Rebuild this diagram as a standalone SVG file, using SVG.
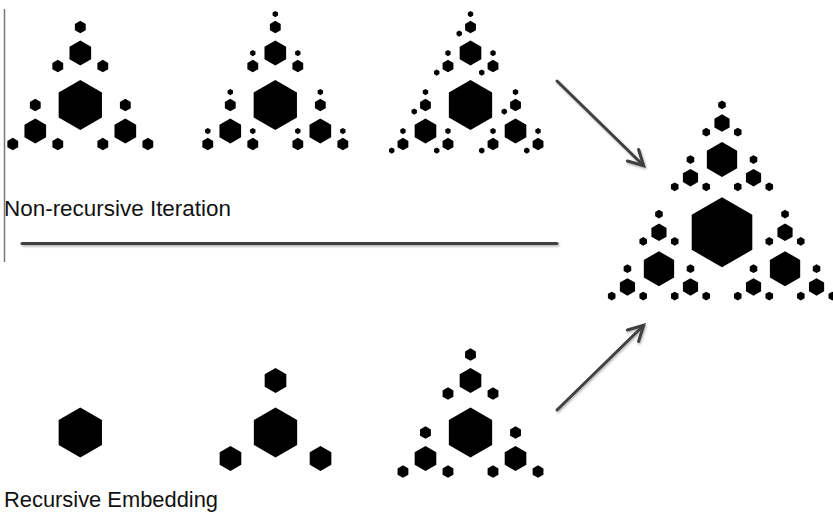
<svg xmlns="http://www.w3.org/2000/svg" width="833" height="515" viewBox="0 0 833 515">
  <style>
    .lbl{font-family:"Liberation Sans",Arial,sans-serif;font-size:22px;fill:#111}
    .ln{stroke:#404040;stroke-width:3;fill:none;stroke-linecap:round}
    .rule{stroke:#777;stroke-width:1.5}
  </style>
  <defs>
    <filter id="shadow" filterUnits="userSpaceOnUse" x="0" y="0" width="833" height="515">
      <feDropShadow dx="1" dy="1.5" stdDeviation="1" flood-color="#000" flood-opacity="0.3"/>
    </filter>
    <marker id="arr" viewBox="0 0 20 20" refX="16" refY="10" markerWidth="20" markerHeight="20" markerUnits="userSpaceOnUse" orient="auto">
      <path d="M2,2 L17,10 L2,18" fill="none" stroke="#404040" stroke-width="3" stroke-linecap="round" stroke-linejoin="miter"/>
    </marker>
    <!-- unit hexagon, pointy top, circumradius 1 -->
    <path id="hx" d="M0,-1 L0.866,-0.5 L0.866,0.5 L0,1 L-0.866,0.5 L-0.866,-0.5Z" fill="#000"/>
    <!-- full embedding, depth 1..3: hexagon plus three half-size copies -->
    <g id="t1">
      <use href="#hx"/>
      <use href="#hx" transform="translate(0,-2.08) scale(.5)"/>
      <use href="#hx" transform="translate(-1.801,1.04) scale(.5)"/>
      <use href="#hx" transform="translate(1.801,1.04) scale(.5)"/>
    </g>
    <g id="t2">
      <use href="#hx"/>
      <use href="#t1" transform="translate(0,-2.08) scale(.5)"/>
      <use href="#t1" transform="translate(-1.801,1.04) scale(.5)"/>
      <use href="#t1" transform="translate(1.801,1.04) scale(.5)"/>
    </g>
    <g id="t3">
      <use href="#hx"/>
      <use href="#t2" transform="translate(0,-2.08) scale(.5)"/>
      <use href="#t2" transform="translate(-1.801,1.04) scale(.5)"/>
      <use href="#t2" transform="translate(1.801,1.04) scale(.5)"/>
    </g>
    <!-- iteration step: only the upper child added at the last level -->
    <g id="u1">
      <use href="#hx"/>
      <use href="#hx" transform="translate(0,-2.08) scale(.5)"/>
    </g>
    <g id="u2">
      <use href="#hx"/>
      <use href="#u1" transform="translate(0,-2.08) scale(.5)"/>
      <use href="#u1" transform="translate(-1.801,1.04) scale(.5)"/>
      <use href="#u1" transform="translate(1.801,1.04) scale(.5)"/>
    </g>
    <g id="u3">
      <use href="#hx"/>
      <use href="#u2" transform="translate(0,-2.08) scale(.5)"/>
      <use href="#u2" transform="translate(-1.801,1.04) scale(.5)"/>
      <use href="#u2" transform="translate(1.801,1.04) scale(.5)"/>
    </g>
    <!-- iteration step: upper and lower-left children added at the last level -->
    <g id="v1">
      <use href="#hx"/>
      <use href="#hx" transform="translate(0,-2.08) scale(.5)"/>
      <use href="#hx" transform="translate(-1.801,1.04) scale(.5)"/>
    </g>
    <g id="v2">
      <use href="#hx"/>
      <use href="#v1" transform="translate(0,-2.08) scale(.5)"/>
      <use href="#v1" transform="translate(-1.801,1.04) scale(.5)"/>
      <use href="#v1" transform="translate(1.801,1.04) scale(.5)"/>
    </g>
    <g id="v3">
      <use href="#hx"/>
      <use href="#v2" transform="translate(0,-2.08) scale(.5)"/>
      <use href="#v2" transform="translate(-1.801,1.04) scale(.5)"/>
      <use href="#v2" transform="translate(1.801,1.04) scale(.5)"/>
    </g>
  </defs>

  <rect width="833" height="515" fill="#fff"/>

  <!-- top row: non-recursive iteration -->
  <g id="iter1"><use href="#t2" transform="translate(80.3,105) scale(25)"/></g>
  <g id="iter2"><use href="#u3" transform="translate(275.3,105) scale(25)"/></g>
  <g id="iter3"><use href="#v3" transform="translate(470.5,105) scale(25)"/></g>
  <g id="label-iteration"><text class="lbl" x="4" y="216" textLength="227" lengthAdjust="spacingAndGlyphs">Non-recursive Iteration</text></g>

  <!-- bottom row: recursive embedding -->
  <g id="embed1"><use href="#hx" transform="translate(80.3,432.5) scale(25)"/></g>
  <g id="embed2"><use href="#t1" transform="translate(275.5,432.5) scale(25)"/></g>
  <g id="embed3"><use href="#t2" transform="translate(470.5,432.5) scale(25)"/></g>
  <g id="label-embedding"><text class="lbl" x="4" y="507" textLength="214" lengthAdjust="spacingAndGlyphs">Recursive Embedding</text></g>

  <!-- shared result -->
  <g id="result"><use href="#t3" transform="translate(722,232.3) scale(35)"/></g>

  <g id="connectors">
    <line class="rule" x1="4.5" y1="9" x2="4.5" y2="262"/>
    <g filter="url(#shadow)">
      <line class="ln" x1="22" y1="243.5" x2="557" y2="243.5"/>
      <line class="ln" x1="557" y1="81" x2="643" y2="165" marker-end="url(#arr)"/>
      <line class="ln" x1="557" y1="410" x2="643" y2="326" marker-end="url(#arr)"/>
    </g>
  </g>
</svg>
